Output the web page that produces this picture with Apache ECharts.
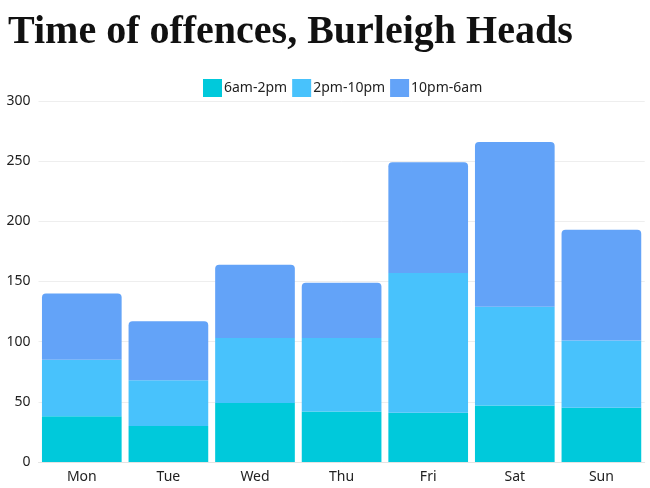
<!DOCTYPE html>
<html>
<head>
<meta charset="utf-8">
<script src="https://cdn.jsdelivr.net/npm/echarts@6/dist/echarts.min.js"></script>
<style>html,body{margin:0;padding:0;background:#fff}#c{width:650px;height:488px}</style>
</head>
<body>
<div id="c"></div>
<script>
var categories = ['Mon','Tue','Wed','Thu','Fri','Sat','Sun'];
var morning = [38,30,49,42,41,47,45];
var evening = [47,38,54,61,116,82,56];
var night = [55,49,61,46,92,137,92];
var seriesNames = ['6am-2pm','2pm-10pm','10pm-6am'];
var colors = ['#00C9DB','#48C2FC','#63A3F8'];

var chart = echarts.init(document.getElementById('c'));
var font = 'Noto Sans';
chart.setOption({
  animation: false,
  color: colors,
  title: {
    text: 'Time of offences, Burleigh Heads',
    left: 3, top: 8,
    textStyle: {fontFamily: 'Liberation Serif', fontWeight: 'bold', fontSize: 40, color: '#111'}
  },
  legend: {
    top: 74, left: 198,
    itemWidth: 19, itemHeight: 18, itemGap: 5,
    icon: 'rect',
    textStyle: {fontFamily: font, fontSize: 14, color: '#222', padding: [0,0,0,-3]},
    data: seriesNames
  },
  grid: {left: 38.5, right: 5.3, top: 101, bottom: 26, containLabel: false},
  xAxis: {
    type: 'category', data: categories,
    axisTick: {show: false},
    axisLine: {lineStyle: {color: '#e4e4e4'}},
    axisLabel: {fontFamily: font, fontSize: 14, color: '#222', margin: 8}
  },
  yAxis: {
    type: 'value', min: 0, max: 300, interval: 50,
    axisLabel: {fontFamily: font, fontSize: 14, color: '#222', margin: 8},
    splitLine: {lineStyle: {color: '#eeeeee'}},
    axisLine: {show: false}, axisTick: {show: false}
  },
  series: [
    {name: seriesNames[0], type: 'bar', stack: 's', data: morning, barCategoryGap: '8%'},
    {name: seriesNames[1], type: 'bar', stack: 's', data: evening, barCategoryGap: '8%'},
    {name: seriesNames[2], type: 'bar', stack: 's', data: night, barCategoryGap: '8%', itemStyle: {borderRadius: [4,4,0,0]}}
  ]
});
</script>
</body>
</html>
